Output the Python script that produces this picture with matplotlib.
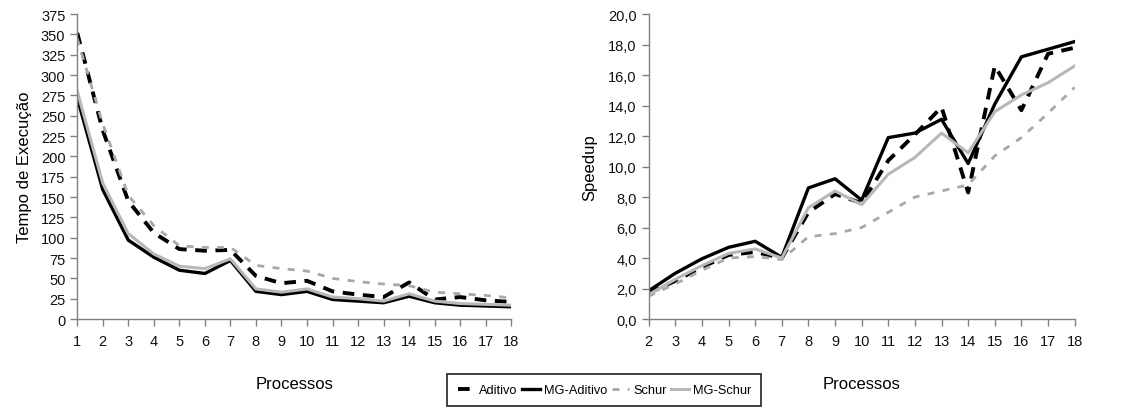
import numpy as np
import matplotlib
matplotlib.use("Agg")
from matplotlib import pyplot as plt
from matplotlib.ticker import FuncFormatter

plt.rcParams['font.family'] = ['Liberation Sans', 'DejaVu Sans']

# ------------------
# dados
# ------------------
procs_tempo = list(range(1, 19))
tempo_aditivo = [352, 232, 145, 106, 86, 84, 85, 53, 44, 47, 34, 30, 27, 45, 24, 27, 23, 21]
tempo_mg_aditivo = [272, 159, 97, 76, 60, 56, 72, 34, 30, 34, 24, 22, 20, 28, 20, 17, 16, 15]
tempo_schur = [345, 240, 152, 115, 90, 88, 88, 66, 62, 59, 50, 46, 43, 41, 33, 31, 29, 26]
tempo_mg_schur = [280, 167, 105, 80, 65, 62, 74, 37, 33, 37, 27, 25, 22, 31, 22, 19, 18, 17]

procs_speedup = list(range(2, 19))
sp_aditivo = [1.7, 2.5, 3.4, 4.2, 4.4, 4.0, 7.0, 8.2, 7.6, 10.4, 12.1, 13.9, 8.3, 16.6, 13.7, 17.4, 17.8]
sp_mg_aditivo = [1.85, 3.0, 3.95, 4.7, 5.1, 4.05, 8.6, 9.2, 7.8, 11.9, 12.2, 13.1, 10.2, 14.1, 17.2, 17.7, 18.2]
sp_schur = [1.5, 2.3, 3.2, 4.0, 4.1, 3.9, 5.4, 5.6, 6.0, 7.0, 8.0, 8.4, 8.8, 10.7, 11.9, 13.5, 15.2]
sp_mg_schur = [1.6, 2.6, 3.5, 4.3, 4.6, 4.0, 7.3, 8.4, 7.5, 9.5, 10.6, 12.2, 10.9, 13.6, 14.7, 15.5, 16.6]

labels = ["Aditivo", "MG-Aditivo", "Schur", "MG-Schur"]

estilos = [
    dict(color="black", lw=2.8, ls=(0, (3, 2.2))),
    dict(color="black", lw=2.4, ls="-"),
    dict(color="#a8a8a8", lw=2.0, ls=(0, (2.5, 3))),
    dict(color="#b8b8b8", lw=2.2, ls="-"),
]


def estilo_eixo(ax):
    for s in ["top", "right"]:
        ax.spines[s].set_visible(False)
    for s in ["left", "bottom"]:
        ax.spines[s].set_color("#808080")
        ax.spines[s].set_linewidth(1.0)
    ax.tick_params(axis="both", colors="#808080", labelcolor="#111111",
                   labelsize=10.5, length=5, width=1)
    ax.tick_params(axis="x", pad=6)


def main():
    fig = plt.figure(figsize=(11.36, 4.10), dpi=100)

    # tempo
    ax1 = fig.add_axes([0.068, 0.2195, 0.382, 0.7435])
    for y, st in zip([tempo_aditivo, tempo_mg_aditivo, tempo_schur, tempo_mg_schur], estilos):
        ax1.plot(procs_tempo, y, **st)
    ax1.set_xlim(1, 18)
    ax1.set_ylim(0, 375)
    ax1.set_xticks(procs_tempo)
    ax1.set_yticks(np.arange(0, 376, 25))
    ax1.set_xlabel("Processos", fontsize=12, labelpad=20)
    ax1.set_ylabel("Tempo de Execução", fontsize=12, labelpad=6)
    estilo_eixo(ax1)

    # speedup
    ax2 = fig.add_axes([0.571, 0.2195, 0.375, 0.7435])
    lines = []
    for y, st in zip([sp_aditivo, sp_mg_aditivo, sp_schur, sp_mg_schur], estilos):
        l, = ax2.plot(procs_speedup, y, **st)
        lines.append(l)
    ax2.set_xlim(2, 18)
    ax2.set_ylim(0, 20)
    ax2.set_xticks(procs_speedup)
    ax2.set_yticks(np.arange(0, 21, 2))
    ax2.yaxis.set_major_formatter(FuncFormatter(lambda v, p: "{:.1f}".format(v).replace(".", ",")))
    ax2.set_xlabel("Processos", fontsize=12, labelpad=20)
    ax2.set_ylabel("Speedup", fontsize=12, labelpad=8)
    estilo_eixo(ax2)

    leg = fig.legend(lines, labels, loc="center", bbox_to_anchor=(0.532, 0.046),
                     ncol=4, fontsize=9.2, frameon=True, fancybox=False,
                     handlelength=1.4, handletextpad=0.3, columnspacing=0.35,
                     borderpad=0.8)
    leg.get_frame().set_edgecolor("black")
    leg.get_frame().set_linewidth(1.3)

    fig.savefig("out.png", dpi=100)
    plt.close(fig)


if __name__ == "__main__":
    main()
